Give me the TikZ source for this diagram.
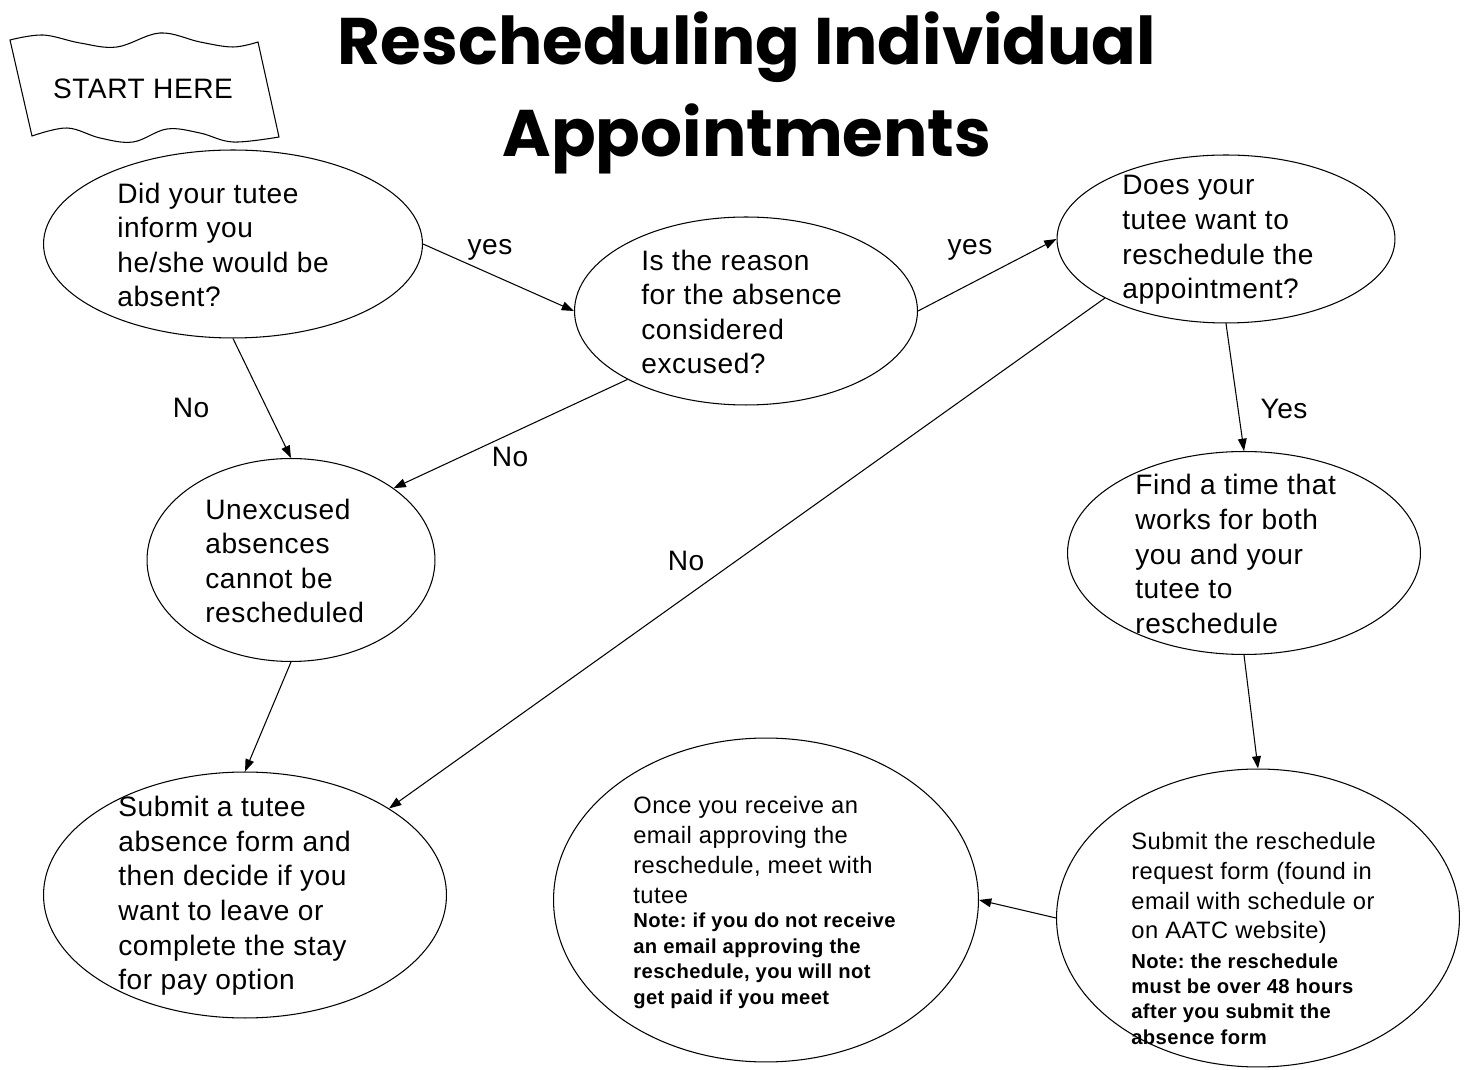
\documentclass[tikz,border=0pt]{standalone}
\usepackage{fontspec}
\setmainfont{Liberation Sans}[LetterSpace=2]
\newfontfamily\headfont{Poppins}
\usetikzlibrary{arrows.meta,positioning,shapes.geometric}

\begin{document}
\frenchspacing
\begin{tikzpicture}[x=0.02cm, y=-0.02cm,
    bubble/.style={draw, ellipse, line width=0.6pt, inner sep=0pt},
    bubbletext/.style={align=left, anchor=west, inner sep=0pt, font=\fontsize{16}{19.7}\selectfont},
    smalltext/.style={align=left, anchor=west, inner sep=0pt, font=\fontsize{13.5}{17}\selectfont},
    notetext/.style={align=left, anchor=west, inner sep=0pt, font=\fontsize{11.5}{14.5}\selectfont\bfseries},
    flow/.style={-{Triangle[length=7pt,width=5pt]}, line width=0.6pt},
    answer/.style={inner sep=0pt, font=\fontsize{16}{19.7}\selectfont}]
      % Page and white background
      \fill[white] (0,0) rectangle (1468,1070);
      \useasboundingbox (0,0) rectangle (1468,1070);
      % Title
      \node[anchor=base, font=\headfont\bfseries\fontsize{37.5}{45}\selectfont] (title1) at (747,65) {Rescheduling Individual};
      \node[anchor=base, font=\headfont\bfseries\fontsize{37.5}{45}\selectfont] (title2) at (747,157) {Appointments};
      % Start flag
      \draw[line width=0.6pt] plot[smooth, tension=0.6] coordinates {(10,40) (43,35) (80,43) (117,47) (160,33) (200,42) (233,47) (258,42)}
        -- plot[smooth, tension=0.6] coordinates {(279,137) (233,142) (200,133) (167,129) (133,142) (100,138) (67,128) (32,136)} -- cycle;
      \node[answer] (start) at (143,89) {START HERE};
      % Question ellipses
      \node[bubble, minimum width=7.58cm, minimum height=3.76cm] (inform) at (233,244) {};
      \node[bubbletext] (informtxt) at (117,245) {Did your tutee\\inform you\\he/she would be\\absent?};
      \node[bubble, minimum width=6.86cm, minimum height=3.76cm] (excused) at (746,311) {};
      \node[bubbletext] (excusedtxt) at (641,312) {Is the reason\\for the absence\\considered\\excused?};
      \node[bubble, minimum width=6.76cm, minimum height=3.36cm] (want) at (1226,239) {};
      \node[bubbletext] (wanttxt) at (1122,240) {Does your\\tutee want to\\reschedule the\\appointment?};
      % Outcome ellipses
      \node[bubble, minimum width=5.76cm, minimum height=4.06cm] (unexcused) at (291,560) {};
      \node[bubbletext] (unexcusedtxt) at (205,561) {Unexcused\\absences\\cannot be\\rescheduled};
      \node[bubble, minimum width=7.06cm, minimum height=4.06cm] (findtime) at (1244,553) {};
      \node[bubbletext] (findtimetxt) at (1135,554) {Find a time that\\works for both\\you and your\\tutee to\\reschedule};
      \node[bubble, minimum width=8.06cm, minimum height=4.92cm] (absform) at (245,895) {};
      \node[bubbletext] (absformtxt) at (118,896) {Submit a tutee\\absence form and\\then decide if you\\want to leave or\\complete the stay\\for pay option};
      \node[bubble, minimum width=8.5cm, minimum height=6.48cm] (meet) at (766,900) {};
      \node[smalltext] (meettxt) at (633,850) {Once you receive an\\email approving the\\reschedule, meet with\\tutee};
      \node[notetext] (meetnote) at (633,961) {Note: if you do not receive\\an email approving the\\reschedule, you will not\\get paid if you meet};
      \node[bubble, minimum width=8.06cm, minimum height=5.96cm] (reqform) at (1258,918) {};
      \node[smalltext] (reqformtxt) at (1131,888) {Submit the reschedule\\request form (found in\\email with schedule or\\on AATC website)};
      \node[notetext] (reqformnote) at (1131,999) {Note: the reschedule\\must be over 48 hours\\after you submit the\\absence form};
      % Connectors
      \draw[flow] (inform.east) -- (excused.west);
      \draw[flow] (excused.east) -- (want.west);
      \draw[flow] (inform.south) -- (unexcused.north);
      \draw[flow] (excused.210) -- (unexcused.35);
      \draw[flow] (want.206) -- (absform.31);
      \draw[flow] (want.south) -- (findtime.north);
      \draw[flow] (unexcused.south) -- (absform.north);
      \draw[flow] (findtime.south) -- (reqform.north);
      \draw[flow] (reqform.west) -- (meet.east);
      % Answer labels
      \node[answer] (yes1) at (490,250) {yes};
      \node[answer] (yes2) at (970,250) {yes};
      \node[answer] (no1) at (191,408) {No};
      \node[answer] (no2) at (510,457) {No};
      \node[answer] (no3) at (686,561) {No};
      \node[answer] (yes3) at (1284,409) {Yes};
\end{tikzpicture}
\end{document}
